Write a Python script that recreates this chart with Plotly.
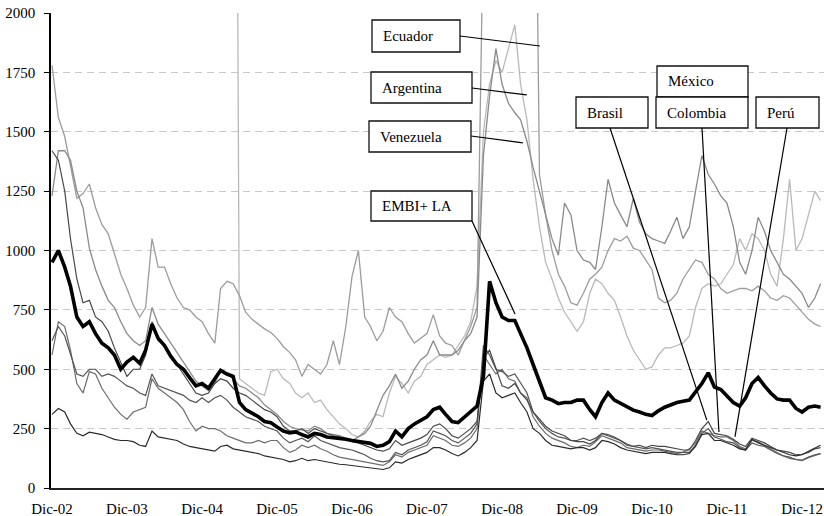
import plotly.graph_objects as go
import pandas as pd

# ---------------- data (monthly, Dic-02 .. Mar-13, spreads in bps) ----------------
dates = pd.date_range("2002-12-01", periods=124, freq="MS")

embi_la = [950, 1000, 930, 850, 720, 680, 700, 650, 610, 590,
           560, 500, 530, 550, 525, 580, 690, 630, 600, 555,
           520, 500, 465, 430, 440, 420, 460, 495, 480, 470,
           360, 330, 315, 300, 280, 275, 257, 240, 232, 236,
           225, 215, 230, 225, 215, 212, 210, 205, 200, 195,
           192, 188, 175, 180, 195, 240, 215, 250, 270, 285,
           300, 330, 340, 310, 280, 275, 300, 325, 345, 470,
           870, 780, 720, 705, 705, 650, 590, 520, 450, 380,
           370, 355, 360, 360, 370, 370, 330, 300, 360, 400,
           370, 355, 340, 328, 320, 310, 305, 325, 340, 350,
           360, 365, 370, 405, 440, 485, 425, 415, 390, 360,
           345, 380, 440, 465, 430, 400, 375, 370, 370, 335,
           320, 340, 345, 340]

ecuador = [1780, 1560, 1480, 1350, 1220, 1240, 1280, 1180, 1110, 1070,
           990, 900, 840, 770, 720, 760, 1050, 930, 930, 860,
           800, 760, 750, 720, 700, 650, 610, 840, 870, 860,
           810, 740, 710, 690, 670, 655, 630, 595, 570, 540,
           470, 520, 500, 480, 520, 620, 520, 680, 890, 1000,
           720, 680, 620, 660, 760, 720, 700, 650, 610, 630,
           650, 730, 640, 610, 600, 560, 620, 680, 760, 2500,
           4000, 4500, 4700, 4200, 4000, 3800, 3900, 3700, 1320, 1150,
           1000, 900, 850, 780, 770, 820, 880, 900, 930, 1000,
           1050, 1040, 1060, 1010, 1000, 960, 920, 800, 780, 790,
           820, 880, 920, 960, 950, 900, 880, 840, 820, 830,
           840, 840, 830, 850, 830, 800, 790, 810, 800, 770,
           740, 710, 690, 680]

venezuela = [1230, 1420, 1420, 1380, 1250, 1180, 1010, 920, 850, 790,
             760, 700, 650, 620, 600, 620, 760, 690, 650, 610,
             570, 530, 490, 450, 430, 410, 440, 500, 480, 460,
             430, 420, 400, 380, 350, 330, 310, 280, 260, 250,
             245, 240, 260, 250, 230, 225, 220, 210, 200, 215,
             230, 260, 330, 390, 430, 480, 420, 450, 500, 540,
             560, 620, 560, 560, 560, 580, 620, 650, 720, 1400,
             1650, 1850, 1700, 1620, 1580, 1550, 1460, 1350, 1250, 1150,
             1050, 980, 1200, 1150, 1000, 960, 950, 920, 1100, 1300,
             1200, 1150, 1100, 1220, 1120, 1070, 1050, 1040, 1030, 1080,
             1140, 1050, 1100, 1250, 1400, 1320, 1280, 1230, 1200, 1100,
             950, 900, 1000, 1140, 1080, 1000, 950, 900, 880, 850,
             820, 760, 800, 860]

argentina = [6400, 6800, 6300, 6000, 5500, 5200, 5600, 5900, 5800, 5700,
             5500, 5400, 5500, 5200, 5000, 4900, 5300, 5500, 5400, 5200,
             5000, 4800, 4700, 4700, 4600, 5000, 5600, 6000, 6200, 6300,
             460, 440, 420, 400, 390, 490, 500, 460, 440, 400,
             380, 400, 360, 370, 330, 300, 270, 250, 225, 215,
             240, 280, 310, 300, 400, 470, 440, 400, 450, 470,
             520, 540, 560, 550, 560, 600, 640, 700, 850, 1500,
             1700, 1800, 1750, 1850, 1950, 1700, 1550, 1300, 1100, 950,
             880, 800, 740, 700, 660, 700, 820, 880, 860, 820,
             790, 720, 640, 580, 540, 500, 510, 560, 590, 590,
             600, 610, 640, 760, 840, 860, 850, 860, 900, 940,
             1050, 1000, 1070, 1050, 1000, 900, 850, 1050, 1300, 1000,
             1050, 1150, 1250, 1210]

brasil = [1420, 1380, 1250, 1050, 880, 780, 790, 720, 700, 660,
          590, 530, 470, 500, 500, 560, 700, 620, 600, 560,
          520, 480, 440, 400, 390, 400, 440, 460, 450, 420,
          400, 390, 370, 350, 330, 320, 300, 260, 240, 240,
          250, 230, 250, 240, 230, 220, 215, 205, 195, 190,
          180, 170, 160, 155, 165, 200, 180, 190, 200, 210,
          225, 260, 270, 250, 220, 210, 230, 250, 280, 550,
          580, 500, 430, 420, 440, 400, 370, 320, 290, 260,
          240, 230, 220, 200, 195, 195, 185, 200, 230, 220,
          210, 200, 185, 175, 180, 170, 180, 175, 175, 170,
          165, 160, 160, 200, 250, 280, 230, 225, 220, 205,
          185, 175, 210, 200, 190, 175, 160, 155, 150, 140,
          142, 150, 165, 170]

colombia = [620, 680, 640, 560, 480, 470, 500, 500, 470, 480,
            470, 450, 430, 420, 400, 390, 480, 430, 420, 410,
            400, 390, 370, 360, 380, 360, 380, 390, 370, 340,
            320, 300, 290, 280, 260, 250, 240, 210, 190, 200,
            210, 195, 220, 200, 190, 180, 170, 165, 160, 150,
            140, 125, 115, 110, 115, 150, 140, 160, 170, 180,
            195, 240, 230, 220, 200, 190, 210, 230, 270, 600,
            560, 500, 490, 470, 480, 440, 400, 320, 280, 250,
            230, 215, 210, 200, 200, 210, 200, 210, 230, 225,
            215, 200, 180, 175, 170, 165, 170, 165, 160, 155,
            150, 150, 150, 180, 230, 250, 215, 205, 195, 190,
            170, 160, 190, 180, 175, 160, 145, 135, 130, 120,
            118, 130, 140, 145]

peru = [560, 700, 680, 580, 440, 400, 490, 480, 420, 380,
        340, 310, 290, 320, 330, 340, 460, 420, 400, 380,
        360, 330, 280, 240, 260, 250, 250, 240, 220, 210,
        200, 190, 190, 200, 190, 200, 200, 170, 150, 160,
        180, 170, 180, 165, 155, 140, 130, 125, 120, 115,
        110, 105, 100, 95, 110, 140, 130, 150, 160, 170,
        180, 220, 210, 200, 180, 175, 190, 210, 250, 560,
        520, 480, 500, 460, 450, 400, 380, 300, 260, 230,
        210, 200, 190, 175, 170, 180, 175, 195, 220, 210,
        200, 190, 170, 165, 160, 155, 160, 160, 155, 150,
        145, 150, 165, 190, 240, 230, 220, 215, 215, 200,
        175, 165, 200, 195, 180, 165, 150, 135, 125, 120,
        115, 128, 138, 145]

mexico = [310, 335, 320, 270, 230, 220, 235, 230, 225, 215,
          205, 200, 200, 195, 180, 175, 240, 215, 210, 205,
          200, 185, 175, 170, 165, 160, 155, 175, 180, 165,
          160, 155, 150, 145, 135, 130, 125, 120, 110, 115,
          125, 115, 120, 115, 110, 105, 100, 98, 95, 90,
          88, 85, 80, 78, 85, 110, 105, 120, 130, 140,
          150, 170, 170, 160, 145, 135, 150, 170, 200, 450,
          480, 400, 380, 390, 400, 360, 320, 250, 230, 200,
          180, 175, 170, 165, 170, 170, 160, 170, 200, 195,
          185, 170, 160, 155, 150, 145, 150, 150, 150, 145,
          140, 140, 145, 175, 225, 230, 200, 200, 190, 180,
          165, 160, 205, 190, 180, 170, 160, 150, 140, 135,
          140, 155, 170, 180]

tick_dates = pd.date_range("2002-12-01", periods=11, freq="12MS")
tick_labels = ["Dic-02", "Dic-03", "Dic-04", "Dic-05", "Dic-06", "Dic-07",
               "Dic-08", "Dic-09", "Dic-10", "Dic-11", "Dic-12"]
y_ticks = [0, 250, 500, 750, 1000, 1250, 1500, 1750, 2000]

for s in (embi_la, ecuador, venezuela, argentina, brasil, colombia, peru, mexico):
    assert len(s) == len(dates)

# label boxes (px): (text, (left, top, right, bottom), leader start, target (date, value))
labels = [
    ("Ecuador",   (372, 20, 460, 52),  (460, 36),  ("2009-06-03", 1861)),
    ("Argentina", (371, 72, 472, 103), (472, 88),  ("2009-03-31", 1655)),
    ("Venezuela", (369, 121, 471, 152), (471, 136), ("2009-03-12", 1453)),
    ("EMBI+ LA",  (371, 191, 472, 221), (472, 221), ("2009-02-02", 733)),
    ("México",    (657, 66, 748, 97),  None, None),
    ("Brasil",    (576, 97, 648, 128), (610, 128), ("2011-08-25", 286)),
    ("Colombia",  (656, 97, 748, 128), (702, 128), ("2011-10-23", 236)),
    ("Perú",      (756, 97, 819, 128), (787, 128), ("2012-01-09", 215)),
]

SERIF = "'Liberation Serif', 'Times New Roman', serif"

# ---------------- geometry ----------------
W, H = 824, 516
PL, PT, PR, PB = 51, 13, 824, 488   # plot-area edges in pixels
L, T, R, B = PL, PT, W - PR, H - PB
PW, PH = PR - PL, PB - PT
START = pd.Timestamp("2002-12-01")
X0PX, PXYR = 52.0, 75.0       # px of Dic-02 and px per year


def px_date(px):
    return START + pd.Timedelta(days=(px - X0PX) / PXYR * 365.25)


def date_px(d):
    return X0PX + PXYR * (pd.Timestamp(d) - START).days / 365.25


def fx(px):
    return (px - PL) / PW


def fy(py):
    return (PB - py) / PH


def val_py(v):
    return PB - PH * v / 2000.0


fig = go.Figure()
series = [
    ("Argentina", argentina, "#b9b9b9", 1.3),
    ("Ecuador", ecuador, "#9c9c9c", 1.3),
    ("Venezuela", venezuela, "#8a8a8a", 1.3),
    ("Perú", peru, "#6c6c6c", 1.2),
    ("Colombia", colombia, "#555555", 1.2),
    ("Brasil", brasil, "#484848", 1.2),
    ("México", mexico, "#2a2a2a", 1.2),
    ("EMBI+ LA", embi_la, "#000000", 3.6),
]
for name, vals, col, w in series:
    fig.add_trace(go.Scatter(x=dates, y=vals, mode="lines", name=name,
                             line=dict(color=col, width=w), hoverinfo="skip"))

shapes = []
annotations = []
for text, (l, t, r, b), start, target in labels:
    shapes.append(dict(type="rect", xref="paper", yref="paper",
                       x0=fx(l), x1=fx(r), y0=fy(b), y1=fy(t),
                       line=dict(color="#111111", width=1.3),
                       fillcolor="white", layer="above"))
    annotations.append(dict(text=text, xref="paper", yref="paper",
                            x=fx(l + 9), y=fy((t + b) / 2),
                            xanchor="left", yanchor="middle", showarrow=False,
                            font=dict(family=SERIF, size=15, color="#000")))
    if start is not None:
        tx, tv = target
        shapes.append(dict(type="line", xref="paper", yref="paper",
                           x0=fx(start[0]), y0=fy(start[1]),
                           x1=fx(date_px(tx)), y1=fy(val_py(tv)),
                           line=dict(color="#000000", width=1.2), layer="above"))

fig.update_layout(
    width=W, height=H, autosize=False,
    margin=dict(l=L, r=R, t=T, b=B, pad=0, autoexpand=False),
    plot_bgcolor="white", paper_bgcolor="white",
    showlegend=False,
    font=dict(family=SERIF, size=15, color="#000"),
    shapes=shapes, annotations=annotations,
    xaxis=dict(type="date", range=[px_date(PL), px_date(PR)],
               tickvals=list(tick_dates), ticktext=tick_labels,
               showgrid=False, zeroline=False, showline=True,
               linecolor="#222222", linewidth=1.5, ticks="",
               ticklabelstandoff=6, automargin=False,
               tickfont=dict(family=SERIF, size=15)),
    yaxis=dict(range=[0, 2000], tickvals=y_ticks,
               showgrid=True, gridcolor="#c8c8c8", gridwidth=1,
               griddash="7px,5px", zeroline=False, showline=True,
               linecolor="#000000", linewidth=1.5, ticks="outside",
               ticklen=5, tickcolor="#000000", ticklabelstandoff=6,
               automargin=False, tickfont=dict(family=SERIF, size=15)),
)

fig.write_html(
    "out.html",
    config={"displayModeBar": False},
    post_script="document.body.style.margin='0';document.body.style.overflow='hidden';",
)
